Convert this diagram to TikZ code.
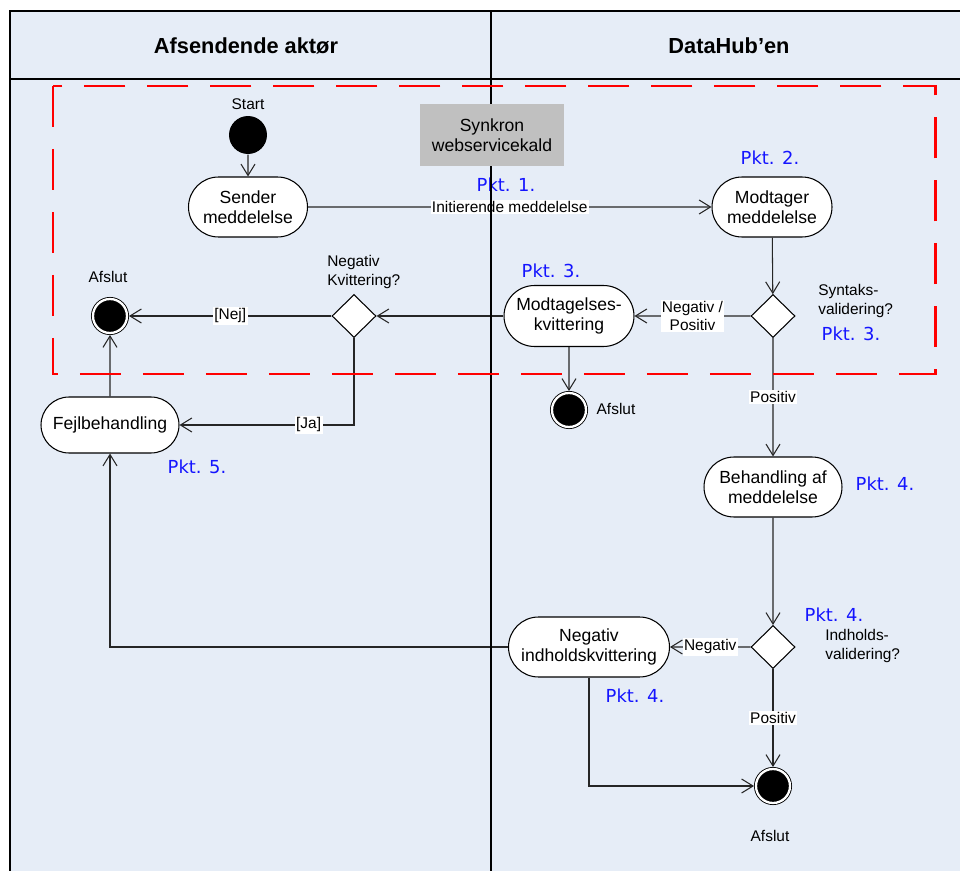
\documentclass[tikz,border=0pt]{standalone}
\usepackage{fontspec}
\setmainfont{Liberation Sans}
\newfontfamily\pktfont{DejaVu Sans}
\usetikzlibrary{shapes.geometric}
\usetikzlibrary{shapes.misc}
\usetikzlibrary{arrows.meta}
\definecolor{laneblue}{RGB}{230,237,247}
\definecolor{boxgray}{RGB}{192,192,192}
\definecolor{pktblue}{RGB}{20,20,255}

\begin{document}
\begin{tikzpicture}[
        x=0.02cm, y=-0.02cm,
        line width=0.6pt,
        flow/.style={draw=black!85, -{Straight Barb[length=6.5pt,width=8pt]}},
        activity/.style={rounded rectangle, draw, fill=white, align=center, inner sep=0pt,
            minimum height=1.2cm, font=\fontsize{10}{11.3}\selectfont},
        decision/.style={diamond, draw, fill=white, minimum width=0.88cm,
            minimum height=0.86cm, inner sep=0pt},
        startnode/.style={circle, fill=black, minimum size=0.76cm, inner sep=0pt},
        endnode/.style={circle, draw, fill=black, double=white, double distance=1.3pt,
            line width=0.5pt, minimum size=0.68cm, inner sep=0pt, outer sep=1.15pt},
        note/.style={align=left, inner sep=1pt, font=\fontsize{8.8}{10.4}\selectfont},
        guard/.style={fill=white, inner sep=0.8pt, align=center, font=\fontsize{8.8}{10.2}\selectfont},
        pkt/.style={text=pktblue, font=\pktfont\fontsize{10.2}{12}\selectfont},
        lanehead/.style={font=\bfseries\fontsize{12.4}{14}\selectfont}
    ]
    \useasboundingbox (0,0) rectangle (960,871);
    \fill[laneblue] (10,11) rectangle (960,871);
    \draw[line width=1.4pt] (10,871) -- (10,11) -- (960,11);
    \draw[line width=1.1pt] (10,79) -- (960,79);
    \node[lanehead] (sender lane) at (246,46) {Afsendende aktør};
    \node[lanehead] (hub lane) at (729,46) {DataHub’en};

    \node[startnode] (start) at (248,135) {};
    \node[note] (start label) at (248,104) {Start};
    \node[activity, minimum width=2.38cm] (sender) at (248,207) {Sender\\meddelelse};
    \node[activity, minimum width=2.4cm] (modtager) at (772,207) {Modtager\\meddelelse};
    \node[decision] (syntaks) at (773,316) {};
    \node[activity, minimum width=2.6cm, minimum height=1.22cm] (kvittering) at (569,316) {Modtagelses-\\kvittering};
    \node[endnode] (afslut mid) at (569,410) {};
    \node[decision] (negkvit) at (354,316) {};
    \node[endnode] (afslut top) at (110,316) {};
    \node[activity, minimum width=2.76cm, minimum height=1.12cm] (fejl) at (110,425) {Fejlbehandling};
    \node[activity, minimum width=2.76cm] (behandling) at (773,487) {Behandling af\\meddelelse};
    \node[decision] (indhold) at (773,647) {};
    \node[activity, minimum width=3.22cm] (negindhold) at (589,647) {Negativ\\indholdskvittering};
    \node[endnode] (afslut bottom) at (773,786) {};

    \node[note, anchor=west] (syntaks label) at (816,301) {Syntaks-\\validering?};
    \node[note, anchor=west] (negkvit label) at (325,272) {Negativ\\Kvittering?};
    \node[note, anchor=west] (indhold label) at (823,646) {Indholds-\\validering?};
    \node[note] (afslut top label) at (108,277) {Afslut};
    \node[note] (afslut mid label) at (616,409) {Afslut};
    \node[note] (afslut bottom label) at (770,836) {Afslut};

    \node[pkt] (pkt1) at (506,185) {Pkt. 1.};
    \node[pkt] (pkt2) at (770,158) {Pkt. 2.};
    \node[pkt] (pkt3a) at (551,271) {Pkt. 3.};
    \node[pkt] (pkt3b) at (851,334) {Pkt. 3.};
    \node[pkt] (pkt4a) at (885,484) {Pkt. 4.};
    \node[pkt] (pkt4b) at (834,615) {Pkt. 4.};
    \node[pkt] (pkt4c) at (635,696) {Pkt. 4.};
    \node[pkt] (pkt5) at (197,467) {Pkt. 5.};

    \draw[flow] (start) -- (sender);
    \draw[flow] (sender) -- node[guard] {Initierende meddelelse} (modtager);
    \draw[flow] (modtager) -- (syntaks);
    \draw[flow] (syntaks) -- node[guard] {Negativ /\\Positiv} (kvittering);
    \draw[flow] (kvittering) -- (negkvit);
    \draw[flow] (kvittering) -- (afslut mid);
    \draw[flow] (negkvit) -- node[guard] {[Nej]} (afslut top);
    \draw[flow] (negkvit) |- node[guard, pos=0.63] {[Ja]} (fejl);
    \draw[flow] (fejl) -- (afslut top);
    \draw[flow] (syntaks) -- node[guard] {Positiv} (behandling);
    \draw[flow] (behandling) -- (indhold);
    \draw[flow] (indhold) -- node[guard] {Negativ} (negindhold);
    \draw[flow] (indhold) -- node[guard] {Positiv} (afslut bottom);
    \draw[flow] (negindhold) -| (fejl);
    \draw[flow] (negindhold) |- (afslut bottom);

    \draw (491,11) -- (491,871);
    \node[fill=boxgray, minimum width=2.88cm, minimum height=1.26cm, align=center,
        font=\fontsize{10}{11.3}\selectfont] (synkron) at (492,135) {Synkron\\webservicekald};
    \draw[red, line width=1.7pt, dash pattern=on 0.82cm off 0.44cm] (53,86) rectangle (935,374);
\end{tikzpicture}
\end{document}
